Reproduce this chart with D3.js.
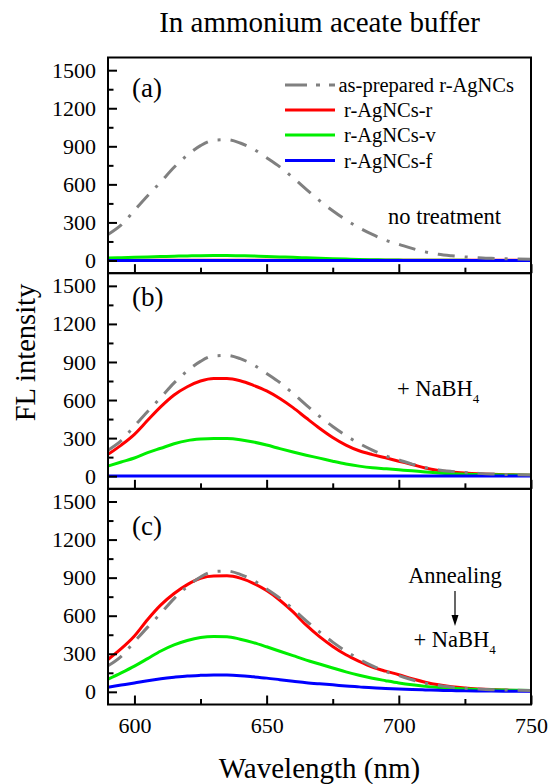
<!DOCTYPE html>
<html>
<head>
<meta charset="utf-8">
<script src="https://cdn.jsdelivr.net/npm/d3@7"></script>
<style>
  body { margin: 0; background: #fff; }
  svg { display: block; }
  text { font-family: "Liberation Serif", "Times New Roman", serif; fill: #000; }
</style>
</head>
<body>
<svg id="chart" width="553" height="784"></svg>
<script>
// Emission wavelength grid (nm)
const wavelength = [590, 595, 600, 605, 610, 615, 620, 625, 630, 635, 640, 645, 650, 655, 660, 665, 670,
                    675, 680, 685, 690, 695, 700, 705, 710, 715, 720, 725, 730, 735, 740, 745, 750];

// as-prepared r-AgNCs (reference spectrum, shown in every panel)
const asPrepared = [205, 280, 395, 510, 620, 735, 830, 905, 948, 952, 926, 878, 810, 738, 652, 560, 472,
                    392, 320, 258, 205, 160, 128, 95, 68, 49, 37, 28, 22, 17, 14, 12, 10];

// (a) no treatment
const redA   = [1, 1, 1, 1, 1, 1, 1, 1, 1, 1, 1, 1, 1, 1, 1, 1, 1, 1, 1, 1, 1, 1, 1, 1, 1, 1, 1, 1, 1, 1, 1, 1, 1];
const greenA = [20, 22, 25, 28, 31, 34, 36, 38, 39, 39, 37, 35, 32, 28, 25, 21, 17,
                14, 11, 8, 6, 4, 3, 2, 2, 1, 1, 1, 0, 0, 0, 0, 0];
const blueA  = [0, 0, 0, 0, 0, 0, 0, 0, 0, 0, 0, 0, 0, 0, 0, 0, 0, 0, 0, 0, 0, 0, 0, 0, 0, 0, 0, 0, 0, 0, 0, 0, 0];

// (b) + NaBH4
const redB   = [172, 245, 330, 440, 548, 640, 705, 750, 770, 770, 752, 716, 672, 612, 540, 458, 378,
                305, 245, 200, 170, 145, 118, 92, 64, 45, 33, 25, 19, 15, 12, 10, 8];
const greenB = [80, 112, 143, 185, 220, 255, 280, 292, 297, 296, 287, 269, 245, 217, 190, 165, 142,
                118, 96, 79, 66, 58, 50, 42, 33, 25, 19, 15, 13, 11, 10, 9, 8];
const blueB  = [1, 1, 1, 1, 1, 1, 1, 1, 1, 1, 1, 1, 1, 1, 1, 1, 1, 1, 1, 1, 1, 1, 1, 1, 1, 1, 1, 1, 1, 1, 1, 1, 1];

// (c) annealing, then + NaBH4
const redC   = [255, 340, 440, 570, 685, 775, 845, 895, 913, 914, 896, 855, 798, 722, 630, 525, 435,
                358, 292, 240, 195, 163, 135, 103, 76, 55, 40, 30, 23, 18, 14, 11, 9];
const greenC = [100, 150, 203, 262, 322, 370, 405, 428, 436, 435, 415, 388, 355, 320, 285, 250, 219,
                188, 157, 130, 107, 88, 70, 55, 43, 34, 28, 23, 19, 16, 14, 12, 11];
const blueC  = [36, 53, 70, 88, 103, 115, 125, 130, 133, 132, 127, 118, 108, 96, 84, 72, 63,
                55, 46, 39, 32, 27, 22, 18, 15, 12, 10, 8, 7, 6, 5, 4, 4];

// Axis ticks
const xMajor = [600, 650, 700, 750];
const xMinor = [625, 675, 725];
const yMajor = [0, 300, 600, 900, 1200, 1500];
const yMinor = [150, 450, 750, 1050, 1350];

// Legend entries
const seriesNames = ["as-prepared r-AgNCs", "r-AgNCs-r", "r-AgNCs-v", "r-AgNCs-f"];
const panelTags = ["(a)", "(b)", "(c)"];

// ---- layout ----
const svg = d3.select("#chart");
const left = 108, right = 531, top0 = 57.5, panelH = 215.67;
const x = d3.scaleLinear().domain([590, 750]).range([left, right]);

const colors = { r: "#ff0000", v: "#00ee00", f: "#0000ff", ref: "#808080" };
const panelData = [
  { r: redA, v: greenA, f: blueA },
  { r: redB, v: greenB, f: blueB },
  { r: redC, v: greenC, f: blueC }
];
const tagBaseline = [39.5, 32.7, 46.2];

const zip = vals => wavelength.map((w, i) => [w, vals[i]]);

panelData.forEach((pd, i) => {
  const top = top0 + i * panelH;
  const bottom = top + panelH;
  const y = d3.scaleLinear().domain([-100, 1600]).range([bottom, top]);
  const g = svg.append("g");

  const clipId = "clip" + i;
  svg.append("clipPath").attr("id", clipId)
    .append("rect").attr("x", left).attr("y", top).attr("width", right - left).attr("height", panelH);

  const line = d3.line().x(d => x(d[0])).y(d => y(d[1])).curve(d3.curveMonotoneX);
  const plot = g.append("g").attr("clip-path", `url(#${clipId})`);

  [["r", pd.r], ["v", pd.v], ["f", pd.f]].forEach(([k, vals]) => {
    plot.append("path").datum(zip(vals))
      .attr("d", line).attr("fill", "none")
      .attr("stroke", colors[k]).attr("stroke-width", 3)
      .attr("stroke-linejoin", "round");
  });
  plot.append("path").datum(zip(asPrepared))
    .attr("d", line).attr("fill", "none")
    .attr("stroke", colors.ref).attr("stroke-width", 3)
    .attr("stroke-dasharray", "17,10,3,10");

  // y axis: inward ticks
  const yAx = g.append("g").attr("transform", `translate(${left},0)`)
    .call(d3.axisLeft(y).tickValues(yMajor).tickSize(-9).tickPadding(12).tickFormat(d3.format("d")));
  yAx.append("g").call(d3.axisLeft(y).tickValues(yMinor).tickSize(-5.5).tickFormat(""));
  yAx.selectAll(".domain").remove();
  yAx.selectAll("line").attr("stroke", "#000").attr("stroke-width", 2);
  yAx.selectAll("text").attr("font-family", "Liberation Serif, Times New Roman, serif")
    .attr("font-size", 22).attr("fill", "#000");

  // x axis: inward ticks, labels only on the bottom panel
  const xAx = g.append("g").attr("transform", `translate(0,${bottom})`)
    .call(d3.axisBottom(x).tickValues(xMajor).tickSize(-9).tickPadding(13)
      .tickFormat(i === 2 ? d3.format("d") : ""));
  xAx.append("g").call(d3.axisBottom(x).tickValues(xMinor).tickSize(-5.5).tickFormat(""));
  xAx.selectAll(".domain").remove();
  xAx.selectAll("line").attr("stroke", "#000").attr("stroke-width", 2);
  xAx.selectAll("text").attr("font-family", "Liberation Serif, Times New Roman, serif")
    .attr("font-size", 22).attr("fill", "#000");

  // frame
  g.append("rect").attr("x", left).attr("y", top).attr("width", right - left).attr("height", panelH)
    .attr("fill", "none").attr("stroke", "#000").attr("stroke-width", 2);

  // panel tag
  g.append("text").attr("x", 132).attr("y", top + tagBaseline[i]).attr("font-size", 27).text(panelTags[i]);
});

// legend in panel (a)
const legend = svg.append("g");
const legendKeys = ["ref", "r", "v", "f"];
const legendY = [85, 110, 135, 160.5];
const legendTextX = [338.5, 344, 344, 344];
legendKeys.forEach((k, i) => {
  legend.append("line").attr("x1", 285).attr("x2", 335).attr("y1", legendY[i]).attr("y2", legendY[i])
    .attr("stroke", colors[k]).attr("stroke-width", 3)
    .attr("stroke-dasharray", k === "ref" ? "22,9,4,9" : null);
  legend.append("text").attr("x", legendTextX[i]).attr("y", legendY[i] + 7)
    .attr("font-size", 20.5).text(seriesNames[i]);
});

// annotations
svg.append("text").attr("x", 388).attr("y", 224).attr("font-size", 22.5).text("no treatment");

function nabh4(xp, yp) {
  const t = svg.append("text").attr("x", xp).attr("y", yp).attr("font-size", 22.5);
  t.append("tspan").text("+ NaBH");
  t.append("tspan").attr("font-size", 13).attr("dy", 7).text("4");
}
nabh4(397, 396);
nabh4(413.5, 647);

svg.append("text").attr("x", 455).attr("y", 582.5).attr("font-size", 22.5)
  .attr("text-anchor", "middle").text("Annealing");
svg.append("line").attr("x1", 455).attr("x2", 455).attr("y1", 591).attr("y2", 616)
  .attr("stroke", "#000").attr("stroke-width", 1.2);
svg.append("path").attr("d", "M451.5,615 L458.5,615 L455,626 Z").attr("fill", "#000");

// titles
svg.append("text").attr("x", 319.5).attr("y", 32).attr("font-size", 29)
  .attr("text-anchor", "middle").text("In ammonium aceate buffer");
svg.append("text").attr("x", 319.5).attr("y", 778).attr("font-size", 29)
  .attr("text-anchor", "middle").text("Wavelength (nm)");
svg.append("text").attr("transform", "translate(35,352.5) rotate(-90)").attr("font-size", 28.5)
  .attr("text-anchor", "middle").text("FL intensity");
</script>
</body>
</html>
